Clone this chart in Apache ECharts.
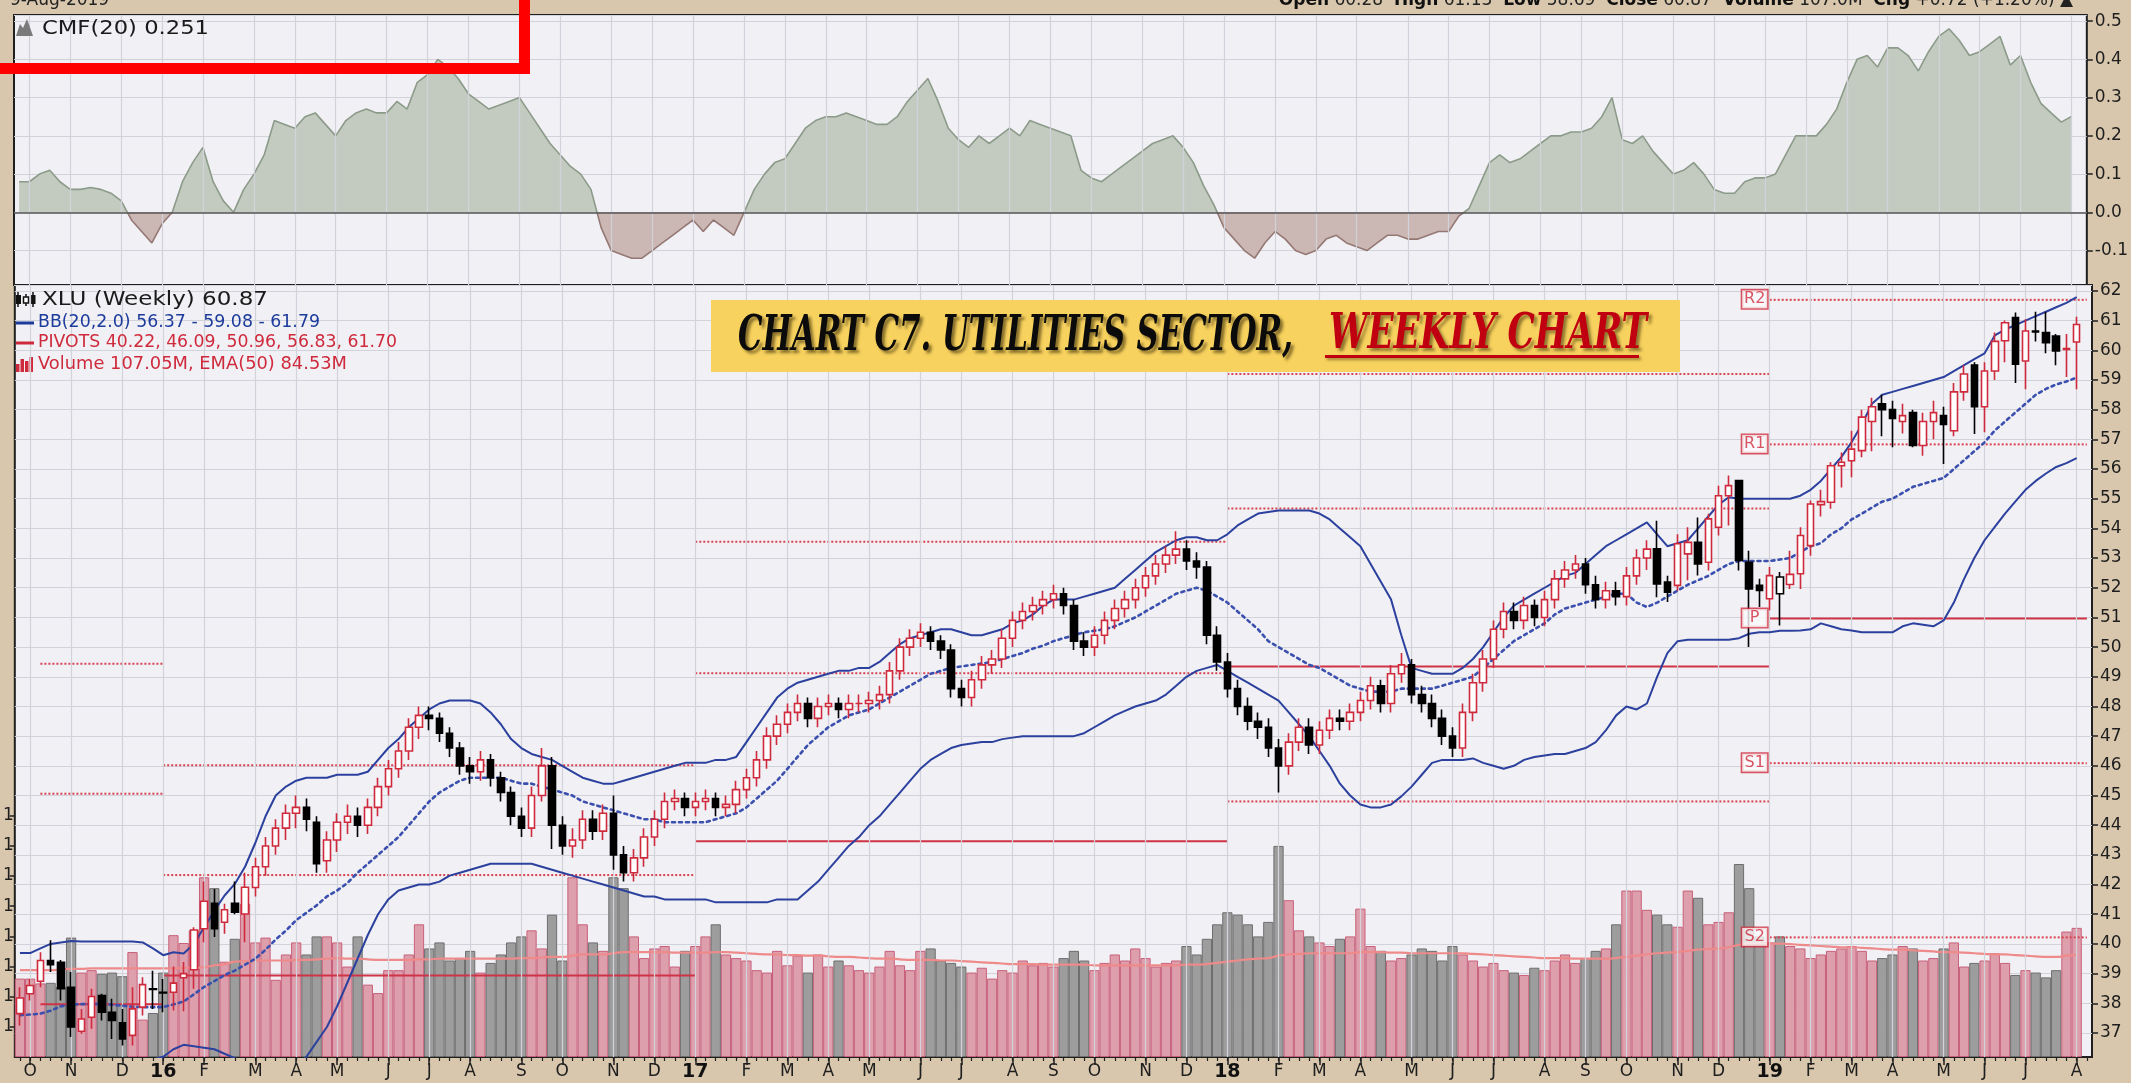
<!DOCTYPE html>
<html>
<head>
<meta charset="utf-8">
<script src="https://cdn.jsdelivr.net/npm/echarts@6/dist/echarts.min.js"></script>
<style>
html,body{margin:0;padding:0;background:#d8c7ad;}
#c{width:2131px;height:1083px;}
</style>
</head>
<body>
<div id="c"></div>
<script>
// XLU weekly bars, week ending Friday, first bar 2 Oct 2015
const firstWeekEnd = Date.UTC(2015, 9, 2);
const monthLetters = ['J','F','M','A','M','J','J','A','S','O','N','D'];

const opens = [37.65,38.32,38.74,39.44,39.38,38.54,37.06,37.53,38.26,37.70,
37.34,36.92,37.87,38.49,38.37,38.37,38.86,39.13,40.51,41.37,
40.73,41.37,41.01,41.9,42.6,43.3,43.9,44.4,44.6,44.1,
42.8,43.5,44.1,44.3,44.0,44.6,45.3,45.9,46.5,47.3,
47.7,47.6,47.1,46.6,46.0,45.8,46.2,45.6,45.1,44.3,
43.9,45.0,46.0,44.0,43.3,43.5,44.2,43.8,44.4,43.0,
42.4,42.9,43.6,44.2,44.8,44.9,44.6,44.8,44.9,44.6,
44.7,45.2,45.6,46.2,47.0,47.4,47.8,48.1,47.6,48.0,
48.1,47.9,48.1,48.1,48.2,48.4,49.2,50.0,50.3,50.5,
50.2,49.9,48.6,48.3,48.9,49.4,49.6,50.3,50.9,51.2,
51.4,51.6,51.8,51.4,50.2,50.0,50.4,50.9,51.3,51.6,
52.0,52.4,52.8,53.1,53.3,52.9,52.7,50.4,49.5,48.6,
48.0,47.5,47.3,46.6,46.0,46.8,47.3,46.7,47.2,47.6,
47.5,47.8,48.2,48.7,48.1,49.1,49.4,48.4,48.1,47.6,
47.0,46.6,47.8,48.8,49.6,50.6,51.2,50.9,51.4,51.0,
51.6,52.3,52.6,52.8,52.1,51.6,51.9,51.7,52.4,53.0,
53.31,52.19,52.08,53.14,53.53,52.86,54.04,55.10,55.61,52.86,
52.08,51.63,51.80,52.11,52.47,53.42,54.80,54.88,56.11,56.28,
56.62,57.60,58.20,58.00,57.60,57.90,56.79,57.60,57.80,57.29,
58.60,59.50,58.10,59.30,60.32,61.10,59.64,60.65,60.60,60.48,
60.03,60.28];

const closes = [38.18,38.60,39.44,39.30,38.49,37.20,37.47,38.23,37.70,37.42,
36.80,37.81,38.63,38.47,38.35,38.68,39.00,40.47,41.44,40.51,
41.15,41.07,41.91,42.6,43.3,43.9,44.4,44.6,44.2,42.7,
43.5,44.1,44.3,44.0,44.6,45.3,45.9,46.5,47.3,47.7,
47.6,47.1,46.6,46.0,45.8,46.2,45.6,45.1,44.3,43.9,
45.0,46.0,44.0,43.3,43.5,44.2,43.8,44.4,43.0,42.4,
42.9,43.6,44.2,44.8,44.9,44.6,44.8,44.9,44.6,44.7,
45.2,45.6,46.2,47.0,47.4,47.8,48.1,47.6,48.0,48.1,
47.9,48.1,48.1,48.2,48.4,49.2,50.0,50.3,50.5,50.2,
49.9,48.6,48.3,48.9,49.4,49.6,50.3,50.9,51.2,51.4,
51.6,51.8,51.4,50.2,50.0,50.4,50.9,51.3,51.6,52.0,
52.4,52.8,53.1,53.3,52.9,52.7,50.4,49.5,48.6,48.0,
47.5,47.3,46.6,46.0,46.8,47.3,46.7,47.2,47.6,47.5,
47.8,48.2,48.7,48.1,49.1,49.4,48.4,48.1,47.6,47.0,
46.6,47.8,48.8,49.6,50.6,51.2,50.9,51.4,51.0,51.6,
52.3,52.6,52.8,52.1,51.6,51.9,51.7,52.4,53.0,53.3,
52.13,51.85,53.48,53.53,52.80,54.32,55.10,55.44,52.92,51.96,
51.91,52.41,52.36,52.45,53.76,54.82,54.90,56.11,56.23,56.67,
57.75,58.10,58.00,57.70,57.80,56.79,57.60,57.90,57.50,58.60,
59.20,58.10,59.30,60.30,60.93,59.53,60.65,60.62,60.26,59.98,
60.06,60.87];

const lows = [37.25,38.09,38.54,39.05,38.09,36.86,36.97,37.14,37.42,36.80,
36.58,36.58,37.59,37.81,37.70,37.76,37.73,38.49,40.06,40.23,
40.34,41.00,40.06,41.6,42.3,43.0,43.5,43.9,43.8,42.4,
42.4,43.1,43.7,43.6,43.7,44.3,45.0,45.6,46.2,46.9,
47.2,46.8,46.3,45.7,45.4,45.5,45.3,44.8,44.0,43.6,
43.6,44.8,43.2,43.0,42.9,43.2,43.5,43.5,42.5,42.1,
42.1,42.6,43.3,43.9,44.5,44.3,44.3,44.5,44.3,44.3,
44.4,44.9,45.3,45.9,46.7,47.1,47.5,47.3,47.3,47.7,
47.6,47.6,47.8,47.8,47.9,48.1,48.9,49.7,50.0,49.9,
49.6,48.3,48.0,48.0,48.6,49.1,49.3,50.0,50.6,50.9,
51.1,51.3,51.1,49.9,49.7,49.7,50.1,50.6,51.0,51.3,
51.7,52.1,52.5,52.8,52.6,52.3,50.1,49.2,48.3,47.7,
47.2,46.9,46.3,45.1,45.7,46.5,46.4,46.4,46.9,47.2,
47.2,47.5,47.9,47.8,47.8,48.8,48.1,47.8,47.3,46.7,
46.3,46.3,47.5,48.5,49.3,50.3,50.6,50.6,50.7,50.7,
51.3,52.0,52.3,51.8,51.3,51.3,51.4,51.4,52.1,52.6,
51.68,51.52,51.90,52.25,52.41,52.58,53.76,54.10,52.58,50.00,
51.35,51.24,50.73,51.96,51.96,53.08,54.40,54.66,55.38,55.72,
56.40,56.60,57.10,56.73,57.20,56.73,56.45,57.00,56.17,57.10,
58.30,57.18,57.24,59.00,59.60,58.90,58.69,60.30,59.90,59.50,
59.10,58.69];

const highs = [38.54,38.82,39.72,40.12,39.46,39.05,37.81,38.49,38.32,38.15,
37.81,38.54,38.88,39.10,38.82,39.24,39.39,40.56,42.10,41.85,
41.35,42.10,42.40,42.9,43.6,44.2,44.7,45.0,44.9,44.3,
43.8,44.4,44.7,44.6,44.9,45.6,46.2,46.8,47.6,48.0,
48.0,47.8,47.3,46.8,46.3,46.5,46.4,45.8,45.3,44.6,
45.3,46.6,46.3,44.3,43.9,44.5,44.5,44.7,45.0,43.3,
43.2,43.9,44.5,45.1,45.2,45.1,45.1,45.2,45.1,45.0,
45.5,45.9,46.5,47.3,47.7,48.1,48.4,48.3,48.3,48.4,
48.3,48.4,48.4,48.5,48.7,49.5,50.3,50.6,50.8,50.7,
50.4,50.1,48.9,49.2,49.7,49.9,50.6,51.2,51.5,51.7,
51.9,52.1,52.0,51.6,50.5,50.7,51.2,51.6,51.9,52.3,
52.7,53.1,53.4,53.9,53.6,53.2,52.9,50.7,49.8,48.9,
48.3,47.8,47.6,46.9,47.1,47.6,47.6,47.5,47.9,47.9,
48.1,48.5,49.0,48.9,49.4,49.8,49.6,48.7,48.4,47.9,
47.3,48.1,49.1,49.9,50.9,51.5,51.5,51.7,51.6,51.9,
52.6,52.9,53.1,53.0,52.4,52.2,52.2,52.7,53.3,53.6,
54.26,52.40,53.80,54.04,54.37,54.49,55.44,55.78,55.61,53.25,
52.30,52.70,52.53,53.25,54.04,54.94,55.30,56.23,56.56,57.29,
58.00,58.40,58.50,58.30,58.20,58.00,57.90,58.30,58.10,58.90,
59.50,59.60,59.60,60.60,61.00,61.27,61.05,61.30,61.30,60.55,
60.55,61.13];

// weekly volume, millions of shares
const volumes = [65,65,61,61.5,58,99,70,72,69,70,
67,87,31,36.5,70,101,94.5,105,149,140,
79,98,127,95,99,64,85,95,85,100,
100,95,75,100,60,53,72,72,85,110,
90,95,80,82,88,70,78,85,95,100,
105,90,118,80,149,110,95,88,149,140,
100,82,90,92,75,88,92,100,110,85,
82,80,72,70,88,76,84,70,85,75,
80,76,72,70,75,88,76,72,88,90,
80,78,75,70,74,65,72,70,80,76,
78,75,82,88,80,72,78,85,80,90,
82,75,78,80,92,85,98,110,120,118,
110,100,112,175,130,105,100,95,92,98,
100,123,92,88,80,82,85,90,88,80,
92,85,80,75,78,72,70,68,74,72,
80,85,78,82,88,90,110,138,138,122,
118,110,108,138,132,110,112,120,160,140,
100,95,100,92,90,82,85,88,90,92,
88,80,82,85,92,90,80,82,90,95,
75,78,80,86,78,68,72,70,66,72,
104,107.05];

const volumeEma = [72,72,72,72,72.5,73,73,73.5,73.5,73.5,
73.5,73.5,73.5,73.5,73.5,73.5,74,74,74.5,76,
77,79,79.5,80,80,80,80,80.5,80.5,81,
81.5,82,81.5,81.5,81,80.5,80.5,80.5,80.5,81,
81,81.5,81.5,81.5,81.5,81.5,81.5,81.5,81.5,82,
82,82.5,83,83,84,85,85,85,86,87,
87,87,87,87,86.5,86.5,86.5,86.5,87,87,
86.5,86,85.5,85,85,84.5,84.5,84,84,83.5,
83,83,82.5,82,81.5,81.5,81,80.5,80.5,80.5,
80,80,79.5,79,78.5,78,77.5,77,77,77,
76.5,76.5,76.5,76.5,76.5,76,76,76,76,76,
76,76,76,76,76.5,76.5,77,78,79,80,
81,81.5,82,84,85,85.5,86,86,86,86,
86,87,87,87,86.5,86.5,86,86,86,86,
86,86,85.5,85,84.5,84,83.5,83,82.5,82,
82,82,81.5,81.5,81.5,81.5,82,83,84,85,
86,86.5,87,88,89,89.5,90,91,93,94,
94,94,94,93.5,93,92.5,92,91.5,91,91,
90.5,90,89.5,89,89,88.5,88,87.5,87,87,
86.5,86,85.5,85,85,84.5,84,83.5,83,83,
84,84.53];

// Chaikin Money Flow (20)
const cmf = [0.08,0.08,0.10,0.11,0.08,0.06,0.06,0.065,0.06,0.05,
0.03,-0.02,-0.05,-0.08,-0.03,0.0,0.08,0.13,0.17,0.08,
0.03,0.0,0.06,0.10,0.15,0.24,0.23,0.22,0.25,0.26,
0.23,0.20,0.24,0.26,0.27,0.26,0.26,0.29,0.27,0.34,
0.36,0.40,0.38,0.35,0.31,0.29,0.27,0.28,0.29,0.30,
0.26,0.22,0.18,0.15,0.12,0.10,0.06,-0.04,-0.10,-0.11,
-0.12,-0.12,-0.10,-0.08,-0.06,-0.04,-0.02,-0.05,-0.02,-0.04,
-0.06,0.0,0.06,0.10,0.13,0.14,0.18,0.22,0.24,0.25,
0.25,0.26,0.25,0.24,0.23,0.23,0.25,0.29,0.32,0.35,
0.29,0.22,0.19,0.17,0.20,0.18,0.20,0.22,0.20,0.24,
0.23,0.22,0.21,0.20,0.11,0.09,0.08,0.10,0.12,0.14,
0.16,0.18,0.19,0.20,0.17,0.13,0.07,0.02,-0.04,-0.07,
-0.10,-0.12,-0.08,-0.05,-0.07,-0.10,-0.11,-0.10,-0.07,-0.06,
-0.08,-0.09,-0.10,-0.08,-0.06,-0.06,-0.07,-0.07,-0.06,-0.05,
-0.05,-0.01,0.01,0.07,0.13,0.15,0.13,0.14,0.16,0.18,
0.20,0.20,0.21,0.21,0.22,0.25,0.30,0.19,0.18,0.20,
0.16,0.13,0.10,0.11,0.13,0.10,0.06,0.05,0.05,0.08,
0.09,0.09,0.10,0.15,0.20,0.20,0.20,0.23,0.27,0.34,
0.40,0.41,0.38,0.43,0.43,0.41,0.37,0.42,0.46,0.48,
0.45,0.41,0.42,0.44,0.46,0.385,0.41,0.34,0.285,0.26,
0.236,0.251];

// Bollinger Bands (20, 2.0)
const bbUpper = [39.69,39.69,39.85,40.00,40.05,40.10,40.08,40.08,40.08,40.08,
40.08,40.08,40.05,39.85,39.62,39.72,39.68,40.00,40.56,41.12,
41.63,42.02,42.6,43.4,44.3,45.0,45.3,45.5,45.6,45.6,
45.6,45.7,45.7,45.7,45.8,46.2,46.6,46.9,47.3,47.6,
47.9,48.1,48.2,48.2,48.2,48.1,47.8,47.4,46.9,46.6,
46.4,46.3,46.2,46.0,45.8,45.6,45.5,45.4,45.4,45.5,
45.6,45.7,45.8,45.9,46.0,46.1,46.1,46.1,46.2,46.2,
46.3,46.8,47.3,47.8,48.3,48.6,48.8,48.9,49.0,49.1,
49.2,49.2,49.3,49.3,49.5,49.8,50.1,50.3,50.4,50.5,
50.6,50.6,50.5,50.4,50.4,50.5,50.6,50.8,50.9,51.1,
51.4,51.6,51.6,51.6,51.7,51.8,51.9,52.0,52.3,52.6,
52.9,53.2,53.4,53.6,53.7,53.7,53.6,53.6,53.8,54.1,
54.3,54.5,54.55,54.6,54.6,54.6,54.6,54.5,54.3,54.0,
53.7,53.4,52.8,52.2,51.6,50.4,49.3,49.2,49.1,49.1,
49.1,49.3,49.6,50.0,50.5,51.0,51.4,51.6,51.8,52.0,
52.2,52.4,52.5,52.8,53.1,53.4,53.6,53.8,54.0,54.2,
53.8,53.4,53.5,53.6,54.0,54.4,54.8,55.05,55.0,55.0,
55.0,55.0,55.0,55.0,55.1,55.3,55.6,56.0,56.4,56.9,
57.5,58.2,58.5,58.6,58.7,58.8,58.9,59.0,59.1,59.3,
59.5,59.7,59.9,60.5,60.7,60.85,61.0,61.15,61.3,61.45,
61.6,61.79];

const bbMiddle = [37.6,37.62,37.65,37.75,37.9,37.95,37.97,37.98,37.98,37.95,
37.92,37.88,37.87,37.87,37.87,37.96,38.06,38.3,38.55,38.75,
38.95,39.1,39.3,39.5,39.8,40.15,40.45,40.8,41.05,41.3,
41.6,41.8,42.05,42.4,42.7,43.0,43.3,43.6,44.0,44.4,
44.8,45.1,45.3,45.5,45.6,45.6,45.6,45.6,45.5,45.4,
45.4,45.3,45.2,45.1,45.0,44.8,44.7,44.6,44.5,44.4,
44.3,44.2,44.2,44.1,44.1,44.1,44.1,44.1,44.2,44.3,
44.4,44.6,44.9,45.2,45.5,45.9,46.3,46.7,47.0,47.3,
47.5,47.7,47.8,47.9,48.1,48.3,48.5,48.7,48.9,49.1,
49.2,49.3,49.35,49.4,49.45,49.5,49.6,49.7,49.8,49.95,
50.05,50.2,50.3,50.4,50.5,50.55,50.6,50.7,50.85,51.0,
51.2,51.4,51.6,51.8,51.9,52.0,51.9,51.7,51.5,51.2,
50.9,50.6,50.2,50.0,49.8,49.6,49.4,49.3,49.1,48.9,
48.7,48.6,48.5,48.5,48.5,48.6,48.6,48.6,48.6,48.7,
48.8,48.9,49.0,49.3,49.6,49.9,50.2,50.4,50.6,50.8,
51.1,51.3,51.4,51.5,51.6,51.7,51.8,51.8,51.5,51.35,
51.5,51.7,51.9,52.1,52.25,52.4,52.6,52.8,52.9,52.9,
52.9,52.9,52.95,53.0,53.2,53.4,53.5,53.8,54.0,54.3,
54.5,54.7,54.9,55.0,55.2,55.4,55.5,55.6,55.7,56.0,
56.3,56.6,56.9,57.3,57.6,57.9,58.2,58.5,58.7,58.85,
58.95,59.08];

const bbLower = [35.7,35.7,35.6,35.6,35.5,35.4,35.5,35.6,35.7,35.8,
35.8,35.9,36.0,36.1,36.2,36.45,36.6,36.55,36.5,36.45,
36.3,36.15,35.9,35.6,35.3,35.2,35.4,35.8,36.2,36.7,
37.2,37.9,38.7,39.5,40.3,41.0,41.5,41.8,41.9,42.0,
42.0,42.1,42.3,42.4,42.5,42.6,42.7,42.7,42.7,42.7,
42.7,42.6,42.5,42.4,42.3,42.2,42.1,42.0,41.9,41.8,
41.7,41.6,41.6,41.5,41.5,41.5,41.5,41.5,41.4,41.4,
41.4,41.4,41.4,41.4,41.5,41.5,41.5,41.8,42.1,42.5,
42.9,43.3,43.6,44.0,44.3,44.7,45.1,45.5,45.9,46.2,
46.4,46.6,46.7,46.75,46.8,46.8,46.9,46.95,47.0,47.0,
47.0,47.0,47.0,47.0,47.1,47.3,47.5,47.7,47.85,48.0,
48.1,48.2,48.4,48.7,49.0,49.2,49.3,49.4,49.2,49.0,
48.8,48.6,48.4,48.2,47.8,47.4,47.0,46.5,46.0,45.4,
45.0,44.7,44.6,44.6,44.7,44.97,45.3,45.7,46.1,46.2,
46.2,46.2,46.25,46.1,46.0,45.9,46.0,46.2,46.3,46.35,
46.4,46.4,46.5,46.6,46.8,47.2,47.7,48.0,47.9,48.1,
49.0,49.8,50.2,50.25,50.25,50.25,50.25,50.25,50.3,50.45,
50.5,50.5,50.55,50.55,50.56,50.6,50.8,50.7,50.6,50.56,
50.5,50.5,50.5,50.5,50.7,50.8,50.75,50.7,50.9,51.5,
52.3,53.0,53.6,54.05,54.5,54.9,55.3,55.6,55.85,56.07,
56.2,56.37];

// yearly floor-trader pivots, one entry per calendar year 2015..2019
const pivotP  = [37.97, 38.94, 43.46, 49.35, 50.96];
const pivotR1 = [45.06, 42.32, 49.12, 54.67, 56.83];
const pivotR2 = [49.44, 46.02, 53.55, 59.20, 61.70];
const pivotS1 = [null, null, null, 44.80, 46.09];
const pivotS2 = [null, null, null, null, 40.22];
const pivotTags = ['R2', 'R1', 'P', 'S1', 'S2'];

// ---------------------------------------------------------------
const N = closes.length;
const DAY = 86400000;
const categories = [];
const labelAt = {};
const yearStarts = [];
let prevMonth = null;
for (let i = 0; i < N; i++) {
  const d = new Date(firstWeekEnd + i * 7 * DAY);
  categories.push(d.toISOString().slice(0, 10));
  const monday = new Date(d.getTime() - 4 * DAY);
  const m = monday.getUTCMonth();
  if (prevMonth !== null && m !== prevMonth) {
    if (m === 0) {
      labelAt[i] = '{yr|' + String(monday.getUTCFullYear()).slice(2) + '}';
      yearStarts.push(i);
    } else {
      labelAt[i] = monthLetters[m];
    }
  }
  prevMonth = m;
}
categories.push('');               // spare slot on the right edge
const lastSlot = categories.length - 1;
const segStart = [2].concat(yearStarts);
const segEnd = yearStarts.concat([lastSlot]);

const UP_RED = '#cf2a3c';
const FONT = '"DejaVu Sans", Verdana, sans-serif';
const BG = '#f0f0f5';
const GRIDC = '#d2d2da';

// money-flow panel geometry
const CMF_TOP = 15, CMF_H = 270, CMF_MIN = -0.19, CMF_MAX = 0.516;
const zeroStop = CMF_MAX / (CMF_MAX - CMF_MIN);
function splitGradient(above, below) {
  return {type: 'linear', x: 0, y: CMF_TOP, x2: 0, y2: CMF_TOP + CMF_H, global: true,
    colorStops: [{offset: 0, color: above}, {offset: zeroStop, color: above},
                 {offset: zeroStop, color: below}, {offset: 1, color: below}]};
}

// colour follows the change from the prior close, fill follows close vs open
const candleData = opens.map((o, i) => {
  const c = closes[i];
  const prev = i > 0 ? closes[i - 1] : o;
  const col = c >= prev ? UP_RED : '#000000';
  const st = c >= o
    ? {color: '#ffffff', color0: '#ffffff', borderColor: col, borderColor0: col}
    : {color: col, color0: col, borderColor: col, borderColor0: col};
  return {value: [o, c, lows[i], highs[i]], itemStyle: st};
});
const volData = volumes.map((v, i) => {
  const down = i > 0 && closes[i] < closes[i - 1];
  return {value: v, itemStyle: down
    ? {color: '#9d9d9d', borderColor: '#6e6e6e'}
    : {color: '#de9fad', borderColor: '#c8607a'}};
});

// vertical month lines
const monthLines = Object.keys(labelAt).map(k => ({xAxis: +k}));
const blank = categories.map(() => null);

const series = [];
series.push({
  type: 'line', xAxisIndex: 0, yAxisIndex: 0, data: blank, symbol: 'none', silent: true, z: 1,
  markLine: {silent: true, symbol: 'none', label: {show: false}, animation: false,
    lineStyle: {color: GRIDC, width: 1.2, type: 'solid'}, data: monthLines}
});
series.push({
  type: 'line', xAxisIndex: 1, yAxisIndex: 1, data: blank, symbol: 'none', silent: true, z: 1,
  markLine: {silent: true, symbol: 'none', label: {show: false}, animation: false,
    lineStyle: {color: GRIDC, width: 1.2, type: 'solid'}, data: monthLines}
});
series.push({
  type: 'line', xAxisIndex: 0, yAxisIndex: 0, data: cmf, symbol: 'none', z: 2,
  lineStyle: {width: 1.6, color: splitGradient('#8c9a89', '#957873')},
  areaStyle: {opacity: 1, color: splitGradient('#c3cbc1', '#cbb7b4')},
  markLine: {silent: true, symbol: 'none', label: {show: false}, animation: false,
    lineStyle: {color: '#555', width: 1.6, type: 'solid'}, data: [{yAxis: 0}]}
});
series.push({
  type: 'bar', xAxisIndex: 1, yAxisIndex: 2, data: volData, barCategoryGap: '0%',
  itemStyle: {borderWidth: 1}, z: 2
});
series.push({
  type: 'line', xAxisIndex: 1, yAxisIndex: 2, data: volumeEma, symbol: 'none', smooth: true, z: 3,
  lineStyle: {color: '#ee8a8a', width: 2.2}
});
// pivot segments
const levelSets = [pivotR2, pivotR1, pivotP, pivotS1, pivotS2];
levelSets.forEach((levels, li) => {
  levels.forEach((v, yi) => {
    if (v === null) return;
    series.push({
      type: 'line', xAxisIndex: 1, yAxisIndex: 1, symbol: 'none', z: 4, silent: true,
      data: [[segStart[yi], v], [segEnd[yi], v]],
      lineStyle: li === 2 ? {color: '#cf3346', width: 2, type: 'solid'}
                          : {color: '#d8424f', width: 2, type: [2, 2]}
    });
  });
});
// Bollinger bands
series.push({type: 'line', xAxisIndex: 1, yAxisIndex: 1, data: bbUpper, symbol: 'none', z: 5,
  lineStyle: {color: '#2c409e', width: 2}});
series.push({type: 'line', xAxisIndex: 1, yAxisIndex: 1, data: bbMiddle, symbol: 'none', z: 5,
  lineStyle: {color: '#3a4fae', width: 2.6, type: [3, 4], cap: 'round'}});
series.push({type: 'line', xAxisIndex: 1, yAxisIndex: 1, data: bbLower, symbol: 'none', z: 5,
  lineStyle: {color: '#2c409e', width: 2}});
// price candles
series.push({
  type: 'candlestick', xAxisIndex: 1, yAxisIndex: 1, data: candleData, barWidth: 7, z: 6,
  itemStyle: {borderWidth: 1.6}
});
// pivot tags on the current year's segment
series.push({
  type: 'scatter', xAxisIndex: 1, yAxisIndex: 1, symbol: 'circle', symbolSize: 1, z: 8, silent: true,
  itemStyle: {color: 'rgba(0,0,0,0)'},
  data: levelSets.map((lv, li) => ({
    value: [segStart[4], lv[4]],
    label: {show: true, formatter: pivotTags[li]}
  })),
  label: {show: true, position: [-14.5, 0], color: '#cf2a3c', fontFamily: FONT, fontSize: 16,
    width: 21, height: 16, lineHeight: 16, align: 'center', verticalAlign: 'middle',
    backgroundColor: '#fbfbfd', borderColor: '#cf2a3c', borderWidth: 1.5, padding: [1, 2, 1, 2]}
});

// text helpers
const mctx = document.createElement('canvas').getContext('2d');
function fitScale(text, font, target) {
  mctx.font = font;
  const w = mctx.measureText(text).width;
  return w > 0 ? target / w : 1;
}
function legendText(x, y, text, color, size, targetW) {
  const font = size + 'px ' + FONT;
  return {type: 'text', x: x, y: y, z: 100, scaleX: fitScale(text, font, targetW), scaleY: 1,
    style: {text: text, font: font, fill: color, align: 'left', verticalAlign: 'middle',
            textAlign: 'left', textVerticalAlign: 'middle'}};
}

const titleFont = 'italic bold 44px "DejaVu Serif Condensed", "DejaVu Serif", serif';
const titleA = 'CHART C7. UTILITIES SECTOR,';
const titleB = 'WEEKLY CHART';

const graphics = [
  // header
  {type: 'text', x: 10, y: 1, z: 100, style: {text: '9-Aug-2019', font: '17px ' + FONT, fill: '#222',
    align: 'left', verticalAlign: 'middle', textAlign: 'left', textVerticalAlign: 'middle'}},
  {type: 'text', x: 2073, y: 1, z: 100, style: {
    text: '{b|Open} 60.28  {b|High} 61.13  {b|Low} 58.69  {b|Close} 60.87  {b|Volume} 107.0M  {b|Chg} +0.72 (+1.20%) \u25B2',
    font: '17px ' + FONT, fill: '#222', align: 'right', verticalAlign: 'middle',
    textAlign: 'right', textVerticalAlign: 'middle',
    rich: {b: {fontWeight: 'bold', fontSize: 17, fontFamily: FONT, fill: '#111'}}}},
  // CMF legend
  {type: 'polygon', z: 100, shape: {points: [[16,36],[20,24],[23,28],[27,19],[33,36]]}, style: {fill: '#7a7a7a'}},
  legendText(42, 29, 'CMF(20) 0.251', '#1a1a1a', 19, 167),
  // price legend
  {type: 'group', z: 100, children: [
    {type: 'line', shape: {x1: 18, y1: 292, x2: 18, y2: 307}, style: {stroke: '#111', lineWidth: 1.5}},
    {type: 'rect', shape: {x: 16, y: 295, width: 5, height: 9}, style: {fill: '#111'}},
    {type: 'line', shape: {x1: 26, y1: 294, x2: 26, y2: 306}, style: {stroke: '#111', lineWidth: 1.5}},
    {type: 'rect', shape: {x: 23.5, y: 297, width: 5, height: 6}, style: {fill: '#fff', stroke: '#111', lineWidth: 1.5}},
    {type: 'line', shape: {x1: 33, y1: 292, x2: 33, y2: 307}, style: {stroke: '#111', lineWidth: 1.5}},
    {type: 'rect', shape: {x: 30.5, y: 295, width: 5, height: 9}, style: {fill: '#111'}}
  ]},
  legendText(42, 300, 'XLU (Weekly) 60.87', '#1a1a1a', 19, 226),
  {type: 'line', z: 100, shape: {x1: 16, y1: 323, x2: 34, y2: 323}, style: {stroke: '#1d3b9c', lineWidth: 3}},
  legendText(38, 323, 'BB(20,2.0) 56.37 - 59.08 - 61.79', '#1d3b9c', 17, 282),
  {type: 'line', z: 100, shape: {x1: 16, y1: 343, x2: 34, y2: 343}, style: {stroke: '#cf2a3c', lineWidth: 3}},
  legendText(38, 343, 'PIVOTS 40.22, 46.09, 50.96, 56.83, 61.70', '#cf2a3c', 17, 359),
  {type: 'group', z: 100, children: [
    {type: 'rect', shape: {x: 16, y: 364, width: 3.5, height: 8}, style: {fill: '#cf2a3c'}},
    {type: 'rect', shape: {x: 20.5, y: 359, width: 3.5, height: 13}, style: {fill: '#cf2a3c'}},
    {type: 'rect', shape: {x: 25, y: 361, width: 3.5, height: 11}, style: {fill: '#cf2a3c'}},
    {type: 'rect', shape: {x: 29.5, y: 357, width: 3.5, height: 15}, style: {fill: '#cf2a3c'}}
  ]},
  legendText(38, 365, 'Volume 107.05M, EMA(50) 84.53M', '#cf2a3c', 17, 309),
  // title banner
  {type: 'rect', z: 100, shape: {x: 711, y: 300, width: 969, height: 72}, style: {fill: '#f8d25e'}},
  {type: 'text', x: 738, y: 337, z: 101, scaleX: fitScale(titleA, titleFont, 555), scaleY: 1.12,
    style: {text: titleA, font: titleFont, fill: '#0b0b0b', align: 'left', verticalAlign: 'middle',
      textAlign: 'left', textVerticalAlign: 'middle',
      textShadowColor: 'rgba(40,30,0,0.55)', textShadowBlur: 3, textShadowOffsetX: 3, textShadowOffsetY: 3}},
  {type: 'text', x: 1329, y: 335, z: 101, scaleX: fitScale(titleB, titleFont, 318), scaleY: 1.12,
    style: {text: titleB, font: titleFont, fill: '#c00010', align: 'left', verticalAlign: 'middle',
      textAlign: 'left', textVerticalAlign: 'middle',
      textShadowColor: 'rgba(40,30,0,0.5)', textShadowBlur: 3, textShadowOffsetX: 3, textShadowOffsetY: 3}},
  {type: 'rect', z: 101, shape: {x: 1325, y: 355, width: 314, height: 3}, style: {fill: '#c00010',
    shadowColor: 'rgba(40,30,0,0.45)', shadowBlur: 3, shadowOffsetX: 2, shadowOffsetY: 2}},
  // red frame in the corner
  {type: 'rect', z: 110, shape: {x: 0, y: 63, width: 530, height: 11}, style: {fill: '#ff0000'}},
  {type: 'rect', z: 110, shape: {x: 519, y: 0, width: 11, height: 74}, style: {fill: '#ff0000'}}
];

const axisText = {fontFamily: FONT, fontSize: 17, color: '#1e1e1e'};

const option = {
  animation: false,
  backgroundColor: '#d8c7ad',
  grid: [
    {left: 14, top: CMF_TOP, width: 2078, height: CMF_H, show: true, backgroundColor: BG, borderColor: '#1f1f1f', borderWidth: 2},
    {left: 14, top: 285, width: 2078, height: 772, show: true, backgroundColor: BG, borderColor: '#1f1f1f', borderWidth: 2}
  ],
  xAxis: [
    {gridIndex: 0, type: 'category', data: categories, boundaryGap: true,
      axisLine: {show: false}, axisTick: {show: false}, axisLabel: {show: false}, splitLine: {show: false}},
    {gridIndex: 1, type: 'category', data: categories, boundaryGap: true, position: 'bottom',
      axisLine: {show: true, onZero: false, lineStyle: {color: '#1f1f1f', width: 2}},
      axisTick: {show: true, alignWithLabel: true, interval: (i) => labelAt[i] !== undefined, length: 8,
        lineStyle: {color: '#1f1f1f', width: 1.5}},
      axisLabel: Object.assign({}, axisText, {interval: (i) => labelAt[i] !== undefined,
        formatter: (v, i) => labelAt[i] || '', margin: 6,
        rich: {yr: {fontFamily: FONT, fontSize: 19, fontWeight: 'bold', color: '#111'}}}),
      splitLine: {show: false}},
    {gridIndex: 1, type: 'category', data: categories, boundaryGap: true, position: 'bottom',
      axisLine: {show: false, onZero: false},
      axisTick: {show: true, alignWithLabel: true, interval: 0, length: 4, lineStyle: {color: '#1f1f1f', width: 1.2}},
      axisLabel: {show: false}, splitLine: {show: false}}
  ],
  yAxis: [
    {gridIndex: 0, type: 'value', position: 'right', min: CMF_MIN, max: CMF_MAX, minInterval: 0.1, maxInterval: 0.1,
      axisLine: {show: false}, axisTick: {show: true, length: 6, lineStyle: {color: '#1f1f1f', width: 1.5}},
      axisLabel: Object.assign({}, axisText, {margin: 8, showMinLabel: false, showMaxLabel: false,
        formatter: (v) => v.toFixed(1)}),
      splitLine: {show: true, lineStyle: {color: GRIDC, width: 1.2}}},
    {gridIndex: 1, type: 'value', position: 'right', min: 36.19, max: 62.2, minInterval: 1, maxInterval: 1,
      axisLine: {show: false}, axisTick: {show: true, length: 6, lineStyle: {color: '#1f1f1f', width: 1.5}},
      axisLabel: Object.assign({}, axisText, {margin: 8, showMinLabel: false, showMaxLabel: false,
        formatter: (v) => String(Math.round(v))}),
      splitLine: {show: true, lineStyle: {color: GRIDC, width: 1.2}}},
    {gridIndex: 1, type: 'value', position: 'left', min: 0, max: 640, interval: 25,
      axisLine: {show: false},
      axisTick: {show: true, length: 5, customValues: [25,50,75,100,125,150,175,200], lineStyle: {color: '#1f1f1f', width: 1.5}},
      axisLabel: Object.assign({}, axisText, {margin: 1, customValues: [25,50,75,100,125,150,175,200],
        formatter: () => '1'}),
      splitLine: {show: false}}
  ],
  series: series,
  graphic: graphics
};

const chart = echarts.init(document.getElementById('c'), null, {renderer: 'canvas', width: 2131, height: 1083});
chart.setOption(option);
</script>
</body>
</html>
